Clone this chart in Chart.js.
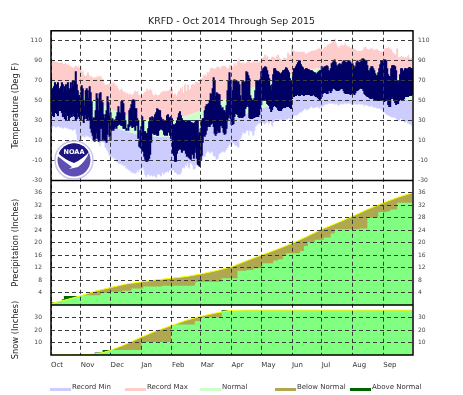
<!DOCTYPE html>
<html lang="en">
<head>
    <meta charset="UTF-8">
    <title>KRFD - Oct 2014 Through Sep 2015</title>
    <script src="https://cdn.jsdelivr.net/npm/chart.js"></script>
    <style>
        body { margin: 0; background: #fff; font-family: "DejaVu Sans", sans-serif; }
        #wrap { position: relative; width: 463px; height: 395px; overflow: hidden; }
        canvas { position: absolute; left: 0; top: 0; }
        #logo { position: absolute; left: 54px; top: 140px; }
        .key { position: absolute; top: 381px; font-size: 7px; line-height: 12px; color: #333; white-space: nowrap; }
        .key i { position: absolute; left: 0; top: 7px; width: 21px; height: 3px; }
        .key span { margin-left: 22px; }
    </style>
</head>
<body>
<div id="wrap">
    <canvas id="chart" width="463" height="395"></canvas>
    <svg id="logo" width="40" height="40" viewBox="0 0 40 40">
        <circle cx="20" cy="20" r="19" fill="#fff" stroke="#c9c4ea" stroke-width="1.5"/>
        <circle cx="20" cy="20" r="16.5" fill="#5f4fb4"/>
        <path d="M4.5 14 A16.5 16.5 0 0 1 35.5 14 Q28 21 20 24 Q12 21 4.5 14 Z" fill="#1d1580"/>
        <path d="M3.5 16 Q11 22 18 27 L15 29 L24 27 Q31 22 36 11 Q29 19 20 23 Q11 20 4 13 Z" fill="#fff"/>
        <text x="20" y="14" text-anchor="middle" font-size="6.5" font-weight="bold" fill="#fff" font-family="DejaVu Sans">NOAA</text>
    </svg>
    <div class="key" style="left:50px"><i style="background:#ccccff"></i><span>Record Min</span></div>
    <div class="key" style="left:125px"><i style="background:#ffcccc"></i><span>Record Max</span></div>
    <div class="key" style="left:200px"><i style="background:#ccffcc"></i><span>Normal</span></div>
    <div class="key" style="left:275px"><i style="background:#b0a850"></i><span>Below Normal</span></div>
    <div class="key" style="left:350px"><i style="background:#006400"></i><span>Above Normal</span></div>
</div>

<script>
    const monthNames = ['Oct','Nov','Dec','Jan','Feb','Mar','Apr','May','Jun','Jul','Aug','Sep'];
    const monthDays = [0,30,60,91,122,151,182,212,243,273,304,335];
    const tempTicks = [-30,-10,10,30,50,70,90,110];
    const precipTicks = [4,8,12,16,20,24,28,32,36];
    const snowTicks = [10,20,30];

    // daily temperatures, one row per month
    const recordMax = [
        90,90,90,90,89,89,89,88,88,88,89,88,87,87,88,87,86,87,85,85,84,83,83,84,85,85,84,85,83,84,84,
        79,80,76,75,75,78,79,76,74,75,74,73,73,74,73,75,74,75,74,75,72,72,68,66,66,67,66,68,67,67,
        67,69,68,67,65,66,63,61,60,62,62,60,59,59,58,57,58,56,57,57,56,56,58,60,60,59,60,56,56,54,54,
        56,58,59,59,62,62,60,61,62,60,57,55,56,57,56,55,56,56,58,59,59,60,60,59,60,60,60,61,62,62,62,
        56,57,57,55,58,60,60,63,62,64,58,66,67,60,66,66,61,62,66,67,67,66,69,69,69,68,70,72,
        72,73,76,75,77,75,79,78,79,82,83,83,83,82,82,83,84,84,84,82,84,85,85,85,85,84,83,82,85,86,86,
        84,84,87,88,85,88,90,93,90,88,88,88,89,87,88,89,89,90,90,88,88,90,89,90,88,90,90,88,90,90,
        92,93,94,96,96,94,95,92,92,92,94,94,94,93,92,95,96,96,93,92,91,91,93,93,93,92,98,98,96,96,105,
        102,100,100,99,99,99,99,99,99,99,99,99,99,97,97,98,98,99,99,100,100,100,101,100,101,102,102,103,102,102,
        101,102,104,104,104,106,106,107,107,108,109,110,112,112,108,106,104,103,105,106,106,105,106,108,106,105,104,105,103,103,104,
        103,102,102,101,100,100,100,100,100,100,101,103,104,104,102,102,101,102,102,103,102,101,101,101,102,101,100,100,99,100,99,
        101,103,102,103,103,104,103,101,102,99,98,97,96,102,103,93,94,94,95,94,94,93,94,93,95,96,93,92,93,91
    ];
    const recordMin = [
        24,23,24,24,23,23,24,24,23,23,23,22,22,23,23,22,22,22,21,21,21,20,20,21,21,16,10,10,10,10,10,
        14,14,13,13,15,14,14,13,13,12,11,11,11,11,10,10,9,7,4,8,9,8,8,3,2,0,-2,-5,-6,-6,
        -7,-7,-9,-8,-10,-12,-12,-14,-13,-14,-14,-15,-16,-15,-18,-18,-19,-20,-20,-22,-22,-22,-23,-23,-23,-22,-20,-22,-19,-19,-20,
        -17,-20,-24,-26,-27,-24,-24,-26,-25,-25,-26,-26,-25,-27,-27,-24,-24,-24,-26,-25,-22,-24,-23,-22,-22,-21,-22,-20,-20,-19,-20,
        -20,-22,-22,-23,-24,-24,-24,-24,-22,-18,-17,-18,-15,-16,-13,-17,-18,-13,-13,-15,-19,-19,-18,-14,-11,-14,-11,-12,
        -9,-10,-7,-6,-6,-3,-1,-1,-2,-3,-2,-1,-5,-6,-6,-9,-9,-8,-4,-3,-2,-2,-1,-1,-2,0,2,3,5,7,4,
        6,8,7,5,5,4,3,3,11,12,15,18,17,17,18,20,20,15,20,19,19,15,15,20,24,25,26,27,27,27,
        28,28,27,26,27,28,29,26,28,29,25,24,28,29,31,31,30,31,30,31,30,30,30,30,31,31,31,32,32,31,30,
        34,34,35,35,35,36,36,38,38,38,39,40,41,42,40,41,41,42,43,44,43,42,43,43,43,44,43,42,43,44,
        44,44,45,46,46,46,47,47,47,47,47,47,46,46,47,46,45,45,46,47,46,46,47,47,46,47,47,47,47,46,46,
        46,46,47,46,46,46,47,46,46,46,46,44,46,45,45,45,44,44,44,45,43,43,43,43,42,42,42,42,41,41,40,
        38,38,36,36,35,35,34,34,33,33,33,33,32,31,29,30,30,32,31,30,29,28,28,29,27,27,26,26,25,24
    ];
    const obsHigh = [
        73,62,60,64,68,59,66,68,62,60,64,68,66,58,64,66,60,68,62,60,68,62,70,64,70,79,66,60,55,55,58,
        65,62,50,44,60,62,60,52,64,58,49,31,33,32,40,57,52,40,57,58,50,48,36,32,36,40,54,48,35,38,
        30,32,29,30,31,34,38,44,38,37,49,50,47,38,30,22,22,26,40,42,46,50,51,50,42,42,32,30,9,20,24,
        34,30,19,19,17,17,22,29,33,30,34,30,33,36,38,42,41,40,40,33,30,31,30,28,30,35,36,33,28,34,32,
        26,24,26,27,30,33,37,39,35,32,30,30,29,28,29,29,30,30,28,28,27,27,28,30,30,30,16,18,
        22,30,32,32,40,44,46,46,47,50,57,56,62,73,70,54,58,57,56,56,45,42,43,40,40,38,45,60,70,78,70,
        52,60,70,71,70,70,68,69,66,55,50,69,69,68,69,79,78,75,72,55,52,50,50,52,60,70,70,69,70,71,
        79,80,82,83,84,83,80,76,72,65,60,66,76,82,82,80,79,79,78,77,76,78,80,80,81,83,82,80,78,72,62,
        70,78,82,82,84,86,88,90,90,86,84,83,79,81,82,82,81,81,80,80,80,79,78,78,76,77,78,79,80,80,
        84,82,83,84,84,85,84,80,79,82,87,88,90,91,88,85,84,86,87,86,86,88,90,90,88,88,89,90,90,88,86,
        87,85,82,84,88,90,88,88,89,91,92,92,91,90,90,85,80,79,82,84,84,82,80,77,75,75,78,82,86,90,90,
        90,91,91,90,82,76,74,74,82,85,85,85,84,80,70,66,70,76,82,82,78,80,82,82,80,82,83,83,82,82
    ];
    const obsLow = [
        40,42,35,34,42,38,37,35,40,44,40,38,34,38,32,31,38,35,30,33,36,34,38,35,34,30,32,38,34,32,30,
        35,36,28,32,36,32,30,34,30,22,18,15,10,9,12,18,12,9,10,22,22,10,12,10,10,8,16,28,14,10,
        20,21,20,22,24,22,25,26,27,26,25,25,22,22,22,20,22,20,24,26,25,23,24,24,20,26,25,12,4,3,2,
        0,-1,-6,-9,-11,-11,-10,-8,-4,8,17,18,16,16,17,15,15,20,22,21,22,20,16,15,18,15,19,18,15,12,13,
        -3,-5,-11,-11,-3,0,1,2,1,-2,0,2,0,-3,-6,-5,-7,-8,-9,-3,-4,-8,-2,3,-8,-14,-15,-16,
        -10,-5,8,15,14,16,20,24,25,24,26,27,28,24,17,15,17,20,18,18,25,25,23,18,16,17,22,30,33,36,32,
        26,26,27,34,37,37,36,34,33,34,33,33,34,35,42,44,46,44,33,32,32,32,33,33,34,34,34,34,36,42,
        46,50,50,50,52,50,47,46,45,42,39,41,44,45,45,44,43,41,40,40,40,42,43,43,43,44,44,44,44,43,42,
        52,54,54,55,55,56,56,55,55,56,58,56,55,56,56,56,56,56,56,55,55,56,56,55,54,54,53,52,50,52,
        54,57,58,58,58,57,57,60,60,58,60,62,63,62,61,60,60,60,61,62,62,62,60,58,57,57,57,57,57,56,57,
        58,57,56,58,60,60,61,62,63,62,62,60,57,56,55,54,54,53,52,52,53,52,50,50,50,50,50,50,50,50,50,
        50,49,50,52,50,46,44,44,52,54,52,50,48,46,47,47,50,52,51,50,50,52,54,56,54,54,55,55,55,56
    ];

    // normals read every two weeks or so
    const normalDays = [0,15,31,46,61,76,92,107,123,137,151,166,182,197,212,227,243,258,273,288,304,319,335,350,364];
    const normalHigh = [69,64,57,48,41,35,31,30,31,35,40,47,54,60,68,72,77,81,83,84,84,83,78,73,67];
    const normalLow = [47,42,36,30,24,19,15,14,14,17,22,27,32,37,42,47,53,58,62,64,65,64,60,54,49];
    const precipNormal = [0.5,1.7,3.1,4.6,5.7,6.8,7.5,8.1,8.7,9.2,10,11,12.3,14.2,16,17.8,19.8,22,24.3,26.3,28.5,30.7,32.8,34.6,36];

    // accumulations only change on some days
    const precipDays = [0,11,13,30,50,60,72,81,93,112,145,146,172,188,197,204,213,224,229,234,237,251,255,259,266,275,282,286,311,319,330,339,342,349,364];
    const precipObs = [0.9,1.9,2.9,3.2,4,4.3,4.6,5.3,6,6.2,7,7.5,8.6,11,11.3,11.8,13.4,14.3,14.7,16,16.6,17.4,19,20.3,21,21.7,23,24.3,24.6,28,29.9,30.1,30.7,32.8,32.8];
    const snowNormalDays = [0,22,40,50,59,75,90,105,121,135,149,165,180,195,364];
    const snowNormal = [0,0.1,0.5,1.5,3.5,8.5,14,19,23.5,27.5,30.7,33.5,35.7,36,36];
    const snowDays = [0,44,52,91,121,124,145,151,172,364];
    const snowObs = [0,2,4,10.4,23.5,24.5,27.2,30.1,35.8,35.8];

    const xy = (days, vals) => vals.map((v, i) => ({ x: days[i], y: v }));
    const daily = vals => vals.map((v, i) => ({ x: i, y: v }));

    function area(label, data, yAxisID, fillTo, color, extra) {
        return Object.assign({
            type: 'line', label, data, yAxisID, pointRadius: 0, borderWidth: 0, tension: 0,
            fill: { target: fillTo, above: color, below: color }
        }, extra || {});
    }

    // frame and panel separators
    const framePlugin = {
        id: 'frame',
        afterDraw(chart) {
            const { ctx, chartArea: a, scales } = chart;
            ctx.save();
            ctx.strokeStyle = '#000';
            ctx.lineWidth = 1.5;
            ctx.strokeRect(a.left, a.top, a.right - a.left, a.bottom - a.top);
            ['yP', 'yS'].forEach(id => {
                ctx.beginPath();
                ctx.moveTo(a.left, scales[id].top);
                ctx.lineTo(a.right, scales[id].top);
                ctx.stroke();
            });
            ctx.restore();
        }
    };

    const tickFont = { family: 'DejaVu Sans', size: 6 };
    const dash = { dash: [4, 3], display: false };

    function leftAxis(min, max, values, weight, stackWeight, title) {
        return {
            position: 'left', stack: 'panels', stackWeight, weight, min, max,
            afterFit: s => { s.width = 51; },
            afterBuildTicks: s => { s.ticks = values.map(value => ({ value })); },
            grid: { color: '#3a3a3a', lineWidth: 1, z: 1, drawTicks: false },
            border: dash,
            title: { display: true, text: title, color: '#222', font: { family: 'DejaVu Sans', size: 8.3 }, padding: { top: 11, bottom: 0 } },
            ticks: { color: '#444', font: tickFont, padding: 9, autoSkip: false, maxRotation: 0 }
        };
    }
    function rightAxis(min, max, values, weight, stackWeight) {
        return {
            position: 'right', stack: 'panels', stackWeight, weight, min, max,
            afterFit: s => { s.width = 50; },
            afterBuildTicks: s => { s.ticks = values.map(value => ({ value })); },
            grid: { display: false, drawTicks: false },
            border: { display: false },
            ticks: { color: '#444', font: tickFont, padding: 5, autoSkip: false, maxRotation: 0 }
        };
    }

    new Chart(document.getElementById('chart'), {
        type: 'bar',
        data: {
            datasets: [
                area('Record Max', daily(recordMax), 'yT', 1, '#ffcccc', { stepped: 'before' }),
                area('Normal', xy(normalDays, normalHigh), 'yT', 2, '#ccffcc'),
                { type: 'line', label: 'Normal Low', data: xy(normalDays, normalLow), yAxisID: 'yT', pointRadius: 0, borderWidth: 0, fill: false },
                area('Record Min', daily(recordMin), 'yT', 2, '#ccccff', { stepped: 'before' }),
                { type: 'bar', label: 'Observed', data: obsHigh.map((v, i) => ({ x: i, y: [obsLow[i], v] })), yAxisID: 'yT', backgroundColor: '#000066', barThickness: 1.4, order: -1 },
                { type: 'line', label: 'Precip Obs', data: xy(precipDays, precipObs), yAxisID: 'yP', pointRadius: 0, borderWidth: 0, stepped: 'before',
                  fill: { target: 6, above: '#006400', below: '#b0a850' } },
                area('Precip Normal', xy(normalDays, precipNormal), 'yP', 'start', '#80ff80', { borderColor: '#ffff00', borderWidth: 1 }),
                { type: 'line', label: 'Snow Obs', data: xy(snowDays, snowObs), yAxisID: 'yS', pointRadius: 0, borderWidth: 0, stepped: 'before',
                  fill: { target: 8, above: '#006400', below: '#b0a850' } },
                area('Snow Normal', xy(snowNormalDays, snowNormal), 'yS', 'start', '#80ff80', { borderColor: '#ffff00', borderWidth: 1 })
            ]
        },
        plugins: [framePlugin],
        options: {
            responsive: false,
            animation: false,
            events: [],
            layout: { padding: 0 },
            plugins: {
                legend: { display: false },
                tooltip: { enabled: false },
                filler: { drawTime: 'beforeDatasetsDraw' },
                title: {
                    display: true,
                    text: 'KRFD - Oct 2014 Through Sep 2015',
                    color: '#222',
                    font: { family: 'DejaVu Sans', size: 9.4, weight: 'normal' },
                    padding: { top: 16, bottom: 3.5 }
                }
            },
            scales: {
                x: {
                    type: 'linear', min: 0, max: 365, offset: false,
                    afterBuildTicks: s => { s.ticks = monthDays.map(value => ({ value })); },
                    afterFit: s => { s.height = 40; },
                    grid: { color: '#3a3a3a', z: 1, drawTicks: false, offset: false },
                    border: dash,
                    ticks: {
                        align: 'start', autoSkip: false, maxRotation: 0, padding: 6, color: '#333',
                        font: { family: 'DejaVu Sans', size: 7 },
                        callback: v => monthNames[monthDays.indexOf(v)]
                    }
                },
                yT: leftAxis(-30, 120, tempTicks, 3, 150, 'Temperature (Deg F)'),
                yP: leftAxis(0, 40, precipTicks, 2, 125, 'Precipitation (Inches)'),
                yS: leftAxis(0, 40, snowTicks, 1, 50, 'Snow (Inches)'),
                rT: rightAxis(-30, 120, tempTicks, 1, 150),
                rP: rightAxis(0, 40, precipTicks, 2, 125),
                rS: rightAxis(0, 40, snowTicks, 3, 50)
            }
        }
    });
</script>
</body>
</html>
